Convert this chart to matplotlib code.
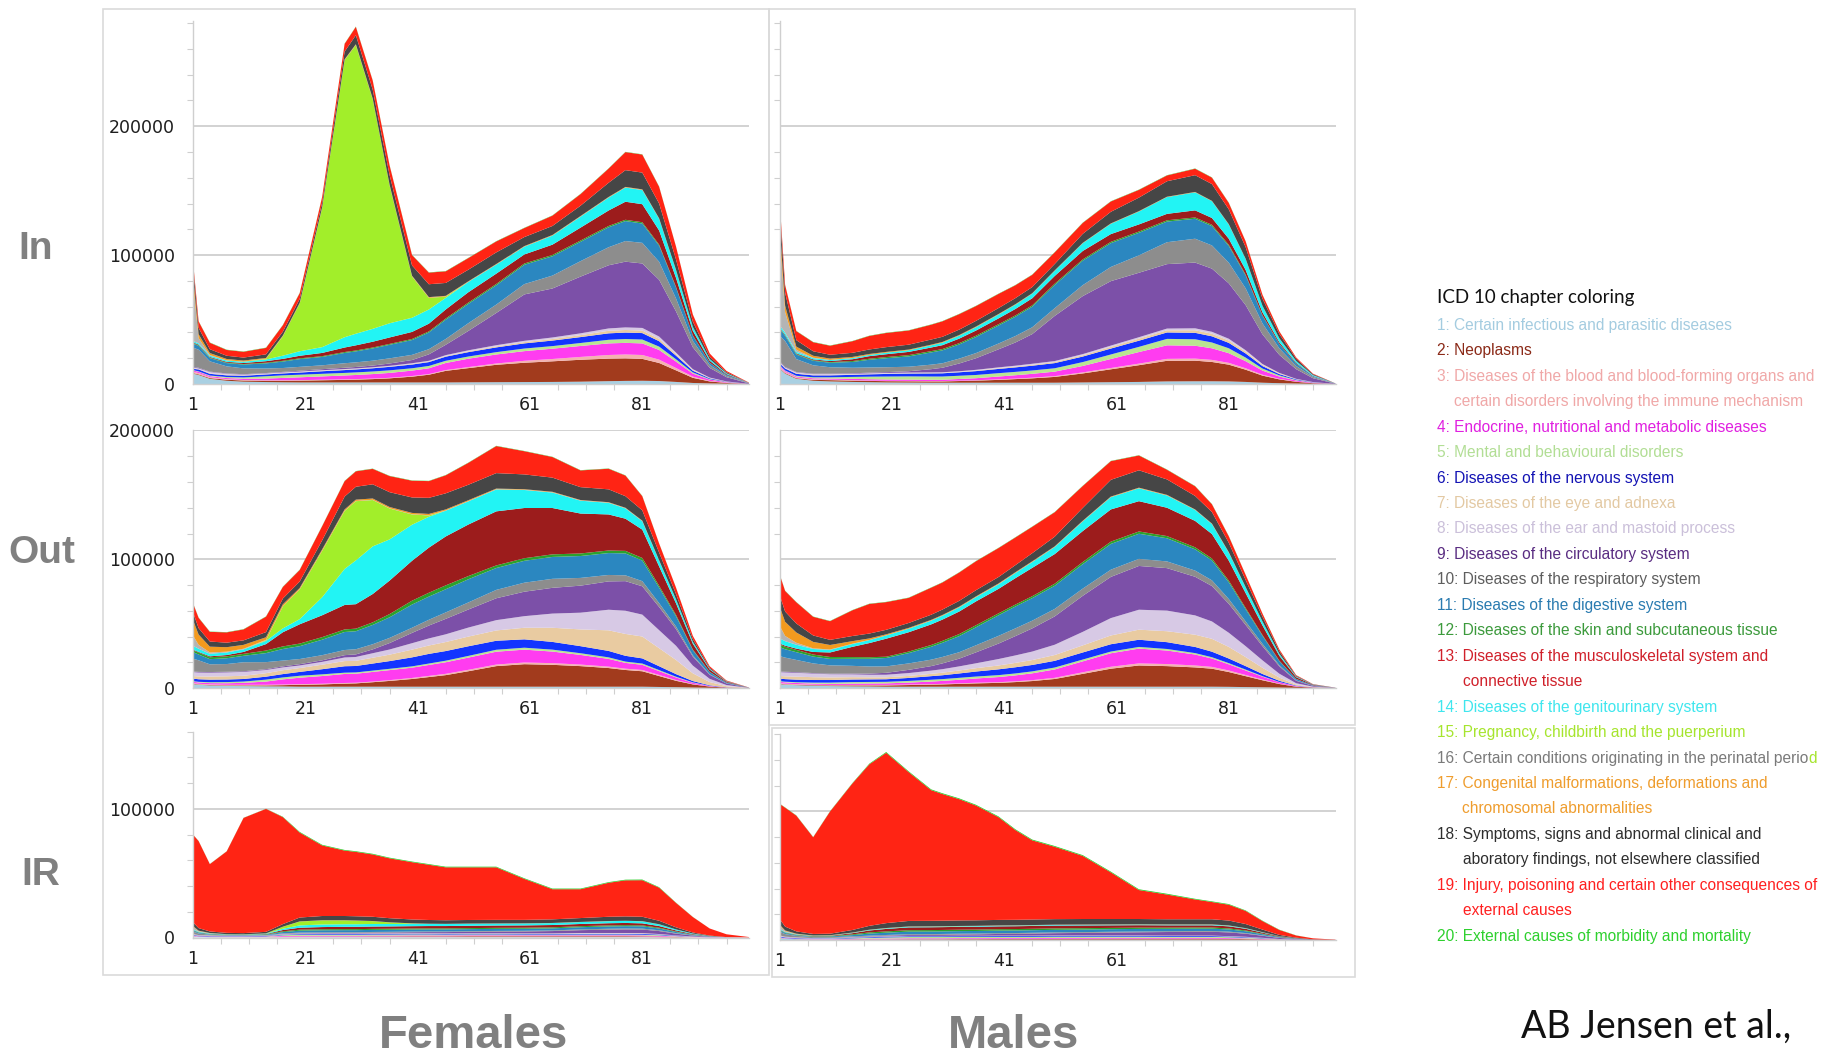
"""
ICD-10 chapter contacts by age — In / Out / IR, females vs males (stacked areas)
"""
import numpy as np

import matplotlib
matplotlib.use('Agg')
import matplotlib.pyplot as plt
from matplotlib.patches import Rectangle
from matplotlib.ticker import FixedLocator, MultipleLocator

W, H = 1835, 1060

# ages where the curves are sampled
AGES = [1, 2, 4, 7, 10, 14, 17, 20, 24, 28, 30, 33, 36, 40, 43, 46, 50,
        55, 60, 65, 70, 75, 78, 81, 84, 87, 90, 93, 96, 100]

# fill colour of each ICD-10 chapter (1..20, stacked bottom -> top)
FILL_COLORS = ['#a9d0e2', '#a23b1d', '#f4b2b0', '#ff3cf0', '#b9e591',
               '#1234ff', '#e9cba1', '#d7c9e5', '#7c50a8', '#8d8d8d',
               '#2b87c0', '#2ca12c', '#9c1c1c', '#22f4f4', '#a2ee2a',
               '#b4b4b4', '#f39a1e', '#464646', '#ff2414', '#22cc22']

TEXT_COLORS = ['#a4cce0', '#8b2a18', '#f0a8a8', '#e020e0', '#b2de95',
               '#1414b4', '#e3c9a3', '#cbc0da', '#5a2d82', '#5e5e5e',
               '#2a7bb0', '#3c9a3c', '#d0202a', '#3fe6ee', '#a6e52e',
               '#7a7a7a', '#ef9d2e', '#2e2e2e', '#ff2020', '#2ed02e']

CHAPTER_NUMS = ['1:', '2:', '3:', '4:', '5:', '6:', '7:', '8:', '9:', '10:',
                '11:', '12:', '13:', '14:', '15:', '16:', '17:', '18:', '19:', '20:']

CHAPTER_LINES = [
    ['Certain infectious and parasitic diseases'],
    ['Neoplasms'],
    ['Diseases of the blood and blood-forming organs and',
     'certain disorders involving the immune mechanism'],
    ['Endocrine, nutritional and metabolic diseases'],
    ['Mental and behavioural disorders'],
    ['Diseases of the nervous system'],
    ['Diseases of the eye and adnexa'],
    ['Diseases of the ear and mastoid process'],
    ['Diseases of the circulatory system'],
    ['Diseases of the respiratory system'],
    ['Diseases of the digestive system'],
    ['Diseases of the skin and subcutaneous tissue'],
    ['Diseases of the musculoskeletal system and', 'connective tissue'],
    ['Diseases of the genitourinary system'],
    ['Pregnancy, childbirth and the puerperium'],
    ['Certain conditions originating in the perinatal perio'],
    ['Congenital malformations, deformations and', 'chromosomal abnormalities'],
    ['Symptoms, signs and abnormal clinical and',
     'aboratory findings, not elsewhere classified'],
    ['Injury, poisoning and certain other consequences of', 'external causes'],
    ['External causes of morbidity and mortality'],
]

X_TICKS = [1, 21, 41, 61, 81]

# one row per age in AGES, one column per chapter 1..20, unit: 1000
F_IN = [
    [8, 0.5, 1, 1, 0.3, 1, 0.5, 0.5, 0.5, 15, 3, 0.5, 0.5, 1, 0, 45, 6, 8, 3, 0.2],
    [7, 0.5, 1, 1, 0.3, 1.5, 0.3, 0.5, 0.5, 14, 3, 0.5, 0.5, 1, 0, 4, 3, 5, 5, 0.2],
    [4, 0.6, 0.7, 0.8, 0.5, 1.3, 0.4, 1, 0.3, 8, 2.5, 0.4, 0.5, 1, 0, 0.5, 1.5, 3, 5, 0.2],
    [2.5, 0.8, 0.5, 0.8, 0.8, 1.3, 0.4, 0.8, 0.3, 5.5, 2.5, 0.4, 0.6, 1, 0, 0.2, 1, 2.5, 4.5, 0.2],
    [1.8, 0.9, 0.4, 1, 1, 1.3, 0.3, 0.6, 0.3, 4.5, 3, 0.4, 0.8, 1, 0, 0.1, 0.8, 2.3, 4.5, 0.2],
    [1.5, 1, 0.4, 1.3, 1.8, 1.4, 0.3, 0.5, 0.3, 3.5, 4, 0.5, 1.2, 1.3, 0.5, 0.1, 0.6, 2.8, 5, 0.2],
    [1.3, 1.2, 0.4, 1.8, 2, 1.5, 0.3, 0.5, 0.4, 3, 5, 0.6, 1.5, 2.5, 15, 0.1, 0.5, 3, 5, 0.2],
    [1.2, 1.4, 0.4, 2.2, 2, 1.7, 0.3, 0.5, 0.6, 3, 6, 0.6, 2, 3.5, 37, 0.1, 0.5, 3, 4.5, 0.2],
    [1.2, 1.7, 0.4, 2.6, 2, 2, 0.3, 0.5, 0.8, 3, 6.5, 0.6, 2.5, 4.5, 108, 0.1, 0.5, 3.5, 4.5, 0.2],
    [1.2, 2, 0.4, 3, 2, 2.2, 0.3, 0.5, 1, 3.5, 8, 0.7, 3.5, 8, 215, 0.1, 0.5, 6, 6, 0.2],
    [1.2, 2.2, 0.4, 3.2, 2, 2.3, 0.3, 0.5, 1.1, 3.6, 8.5, 0.7, 4, 9, 224, 0.1, 0.5, 7, 6.5, 0.2],
    [1.2, 2.6, 0.4, 3.5, 2, 2.5, 0.3, 0.5, 1.3, 3.8, 9.5, 0.7, 4.5, 10, 178, 0.1, 0.5, 7, 7, 0.2],
    [1.2, 3.2, 0.4, 3.8, 2, 2.7, 0.3, 0.5, 1.8, 4, 10.5, 0.7, 5, 11, 107, 0.1, 0.5, 7.5, 7.5, 0.2],
    [1.2, 4.5, 0.5, 4.2, 1.8, 2.9, 0.4, 0.6, 2.5, 4, 11.5, 0.8, 5.5, 11, 32, 0.1, 0.5, 8, 8, 0.2],
    [1.2, 6, 0.5, 4.5, 1.8, 3, 0.4, 0.6, 5, 4, 13, 0.8, 6, 11, 9, 0.1, 0.5, 10, 9, 0.2],
    [1.2, 9, 0.6, 5.5, 1.7, 3.2, 0.5, 0.7, 8, 4.5, 15, 0.9, 7, 9, 1, 0.1, 0.5, 10, 9, 0.2],
    [1.3, 11, 0.8, 6.5, 1.7, 3.4, 0.6, 0.8, 15, 6, 15, 1, 8, 8, 0, 0.1, 0.4, 9, 9, 0.2],
    [1.4, 13.5, 1, 7, 1.8, 3.7, 0.8, 0.9, 25, 6.5, 15, 1, 8, 7, 0, 0.1, 0.4, 9, 8.5, 0.2],
    [1.5, 15, 1.5, 7.5, 2, 4, 1, 1, 36, 8, 15, 1, 7, 6, 0, 0.1, 0.4, 7, 7, 0.2],
    [1.6, 16, 1.8, 8, 2, 4.3, 1.2, 1.2, 38, 10, 15, 1, 8, 7, 0, 0.1, 0.4, 7, 8, 0.2],
    [1.8, 17, 2.2, 8.5, 2.3, 4.6, 1.5, 1.4, 44, 12, 15, 1, 10, 8.5, 0, 0.1, 0.4, 8, 9, 0.2],
    [2.2, 17.5, 2.8, 9, 2.8, 5, 2, 1.8, 49, 14, 15.5, 1, 12, 10, 0, 0.1, 0.4, 11, 11, 0.2],
    [2.4, 17.5, 3, 9, 3, 5, 2, 2, 51, 16, 15.5, 1, 14, 11, 0, 0.1, 0.4, 13, 14, 0.2],
    [2.5, 17, 3, 9, 3, 5, 2, 2, 50, 16, 15, 1, 14, 11, 0, 0.1, 0.4, 13, 14, 0.2],
    [2.3, 14, 2.6, 7.5, 2.6, 4.2, 1.8, 1.8, 44, 14, 12.5, 0.8, 11, 9, 0, 0.1, 0.3, 11.5, 13, 0.2],
    [1.6, 9, 1.8, 5, 1.8, 2.8, 1.2, 1.2, 32, 10, 8.5, 0.5, 7, 6, 0, 0.1, 0.2, 8, 10, 0.1],
    [0.8, 4, 0.9, 2.4, 0.9, 1.3, 0.6, 0.6, 17, 5, 4, 0.3, 3.5, 3, 0, 0, 0.1, 4, 5.5, 0.1],
    [0.4, 1.6, 0.4, 1, 0.4, 0.6, 0.3, 0.3, 7.5, 2.2, 1.8, 0.1, 1.5, 1.3, 0, 0, 0, 1.8, 2.5, 0],
    [0.2, 0.6, 0.2, 0.4, 0.2, 0.2, 0.1, 0.1, 3.3, 1, 0.8, 0, 0.6, 0.6, 0, 0, 0, 0.8, 1, 0],
    [0, 0.05, 0, 0.02, 0, 0.02, 0, 0, 0.4, 0.1, 0.1, 0, 0.05, 0.05, 0, 0, 0, 0.1, 0.2, 0],
]

F_OUT = [
    [3, 0.3, 0.5, 1, 0.5, 2, 2, 3, 0.5, 10, 5, 1.5, 0.5, 3, 0, 8, 12, 6, 7, 0.2],
    [2.5, 0.3, 0.5, 1, 0.5, 2, 2.2, 3, 0.5, 9, 4.5, 1.5, 0.5, 2.5, 0, 3, 8, 5, 8, 0.2],
    [2, 0.3, 0.5, 1, 0.7, 2, 2.4, 3, 0.5, 6, 4, 1.5, 0.7, 2, 0, 1, 4.5, 4, 7.5, 0.2],
    [1.6, 0.4, 0.5, 1.2, 0.9, 2, 2.5, 3, 0.5, 6, 4.5, 1.5, 1, 2, 0, 0.6, 3.5, 3.5, 8, 0.2],
    [1.5, 0.5, 0.5, 1.5, 1, 2, 2.5, 3, 0.5, 7, 5, 1.5, 1.5, 2, 0, 0.5, 3, 3.5, 8.5, 0.2],
    [1.3, 0.7, 0.5, 2.5, 1.5, 2.3, 2.7, 2.5, 0.6, 5.5, 7, 2, 5, 2.5, 0.5, 0.3, 2, 4, 12, 0.2],
    [1.2, 1, 0.5, 4, 1.5, 2.6, 3, 2.2, 0.8, 4.5, 9, 2, 11, 3, 17, 0.2, 1.5, 4.5, 9, 0.2],
    [1, 1.5, 0.5, 5, 1.5, 3, 3, 2, 1, 4, 10, 2, 15, 4, 23, 0.2, 1, 5, 9, 0.2],
    [1, 1.8, 0.5, 6, 1.3, 4, 3.5, 2.2, 1.2, 4, 12, 2, 17, 14, 36, 0.2, 1, 7, 11, 0.2],
    [1, 2.4, 0.5, 7, 1, 5, 4, 2.8, 1.8, 4, 14, 2, 19, 28, 45, 0.2, 1, 10, 12, 0.2],
    [1, 2.6, 0.5, 7, 1, 5, 4, 3, 2, 4, 14, 2, 19, 34, 46, 0.2, 1, 10, 12, 0.2],
    [1, 3.5, 0.5, 7.5, 1, 5.5, 4.5, 3.5, 3, 4, 15, 2, 22, 37, 36, 0.2, 1, 11, 12, 0.2],
    [1, 4.5, 0.6, 7.8, 1, 6, 5, 4, 5, 4, 16, 2.5, 26, 32, 24, 0.2, 1, 11.5, 12.5, 0.2],
    [1, 6, 0.8, 8, 1, 7, 6, 5, 8, 4, 18, 3, 31, 28, 8, 0.2, 1, 12, 13, 0.2],
    [1, 7.5, 0.9, 8.5, 1.1, 7.5, 6.5, 5.5, 10, 4.5, 18, 3, 35, 24, 1, 0.2, 1, 12.5, 13, 0.2],
    [1, 9, 1, 9, 1.2, 7.5, 7, 6, 12, 5, 18, 3, 38, 20, 0, 0.2, 0.8, 12.5, 14, 0.2],
    [1, 12, 1.1, 9.5, 1.3, 7.5, 7.5, 7, 14, 5.5, 18, 2.5, 40, 18, 0, 0.2, 0.7, 12, 17, 0.2],
    [1, 16, 1.2, 10, 1.5, 7, 8, 8, 17, 6.5, 17, 2, 42, 17, 0, 0.2, 0.5, 12, 21, 0.2],
    [1, 17.5, 1.3, 10, 1.5, 6.5, 9, 9, 19, 7, 17, 2, 39, 14, 0, 0.2, 0.4, 11.5, 18, 0.2],
    [1, 17, 1.3, 9, 1.5, 6, 11, 11, 20, 7, 17, 2, 36, 12, 0, 0.2, 0.4, 11, 16, 0.2],
    [1, 16, 1.2, 7.5, 1.3, 5.5, 13, 13, 21, 6, 17, 2, 31, 10, 0, 0.2, 0.3, 10, 13, 0.2],
    [1, 14.5, 1.1, 6, 1.2, 5, 16, 16, 22, 5, 17, 2, 28, 9, 0, 0.2, 0.3, 10, 16, 0.2],
    [1, 13, 1, 4.5, 1, 4.5, 17, 18, 23, 4.5, 17, 2, 25, 8, 0, 0.2, 0.3, 9, 16, 0.2],
    [1, 12, 1, 4, 1, 4, 17, 17, 22, 4, 16, 2, 22, 6.5, 0, 0.2, 0.3, 8, 11, 0.2],
    [0.8, 8.5, 0.8, 3, 0.8, 3, 14, 14, 18, 3, 12, 1.5, 15, 4.5, 0, 0.1, 0.2, 6, 7, 0.1],
    [0.6, 5, 0.6, 2, 0.6, 2, 11, 11, 13, 2, 8, 1, 9, 3, 0, 0.1, 0.1, 4, 5, 0.1],
    [0.3, 2.5, 0.3, 1, 0.3, 1, 6, 6, 7, 1, 4, 0.5, 4.5, 1.5, 0, 0, 0.1, 2, 2.5, 0],
    [0.1, 1, 0.1, 0.4, 0.1, 0.4, 2.5, 2.5, 3.2, 0.4, 1.7, 0.2, 1.8, 0.6, 0, 0, 0, 0.8, 1.1, 0],
    [0, 0.3, 0, 0.1, 0, 0.1, 0.9, 0.9, 1.2, 0.1, 0.6, 0.1, 0.6, 0.2, 0, 0, 0, 0.3, 0.4, 0],
    [0, 0.02, 0, 0, 0, 0, 0.05, 0.05, 0.1, 0, 0.05, 0, 0.05, 0, 0, 0, 0, 0.03, 0.05, 0],
]

F_IR = [
    [0.8, 0.1, 0.2, 0.3, 0.1, 0.5, 0.3, 0.3, 0.1, 2, 0.8, 0.3, 0.1, 0.5, 0, 2, 0.5, 3, 68, 0.1],
    [0.5, 0.1, 0.1, 0.2, 0.1, 0.4, 0.2, 0.2, 0.1, 1.2, 0.6, 0.3, 0.1, 0.4, 0, 0.5, 0.3, 2, 67.6, 0.1],
    [0.3, 0.1, 0.1, 0.2, 0.1, 0.3, 0.2, 0.2, 0.1, 0.6, 0.4, 0.2, 0.1, 0.3, 0, 0.1, 0.2, 1.2, 52.3, 0.1],
    [0.2, 0.1, 0.1, 0.2, 0.1, 0.3, 0.1, 0.1, 0.1, 0.4, 0.3, 0.2, 0.1, 0.2, 0, 0, 0.1, 1, 63.3, 0.1],
    [0.2, 0.1, 0.1, 0.2, 0.1, 0.3, 0.1, 0.1, 0.1, 0.3, 0.3, 0.2, 0.1, 0.2, 0, 0, 0.1, 0.9, 89.5, 0.1],
    [0.2, 0.1, 0.1, 0.3, 0.2, 0.3, 0.1, 0.1, 0.1, 0.3, 0.4, 0.3, 0.2, 0.3, 0.1, 0, 0.1, 1.2, 95.5, 0.1],
    [0.3, 0.2, 0.2, 0.5, 0.6, 0.4, 0.2, 0.2, 0.2, 0.4, 1, 0.6, 1, 1, 1.5, 0, 0.1, 2, 83.1, 0.3],
    [0.3, 0.2, 0.2, 0.6, 0.8, 0.5, 0.2, 0.2, 0.3, 0.5, 1.5, 0.8, 1.5, 1.8, 3, 0, 0.1, 3, 66, 0.5],
    [0.3, 0.3, 0.2, 0.6, 0.8, 0.5, 0.2, 0.2, 0.4, 0.5, 1.6, 0.8, 1.7, 2, 3.2, 0, 0.1, 3.3, 54.8, 0.5],
    [0.3, 0.3, 0.2, 0.6, 0.8, 0.5, 0.2, 0.2, 0.5, 0.5, 1.6, 0.8, 1.8, 2, 3, 0, 0.1, 3.3, 50.8, 0.5],
    [0.3, 0.3, 0.2, 0.6, 0.8, 0.5, 0.2, 0.2, 0.5, 0.5, 1.6, 0.8, 1.8, 2, 2.8, 0, 0.1, 3.3, 50, 0.5],
    [0.3, 0.4, 0.2, 0.6, 0.8, 0.5, 0.2, 0.2, 0.6, 0.5, 1.6, 0.8, 1.8, 2, 2.2, 0, 0.1, 3.3, 48.4, 0.5],
    [0.3, 0.4, 0.2, 0.6, 0.8, 0.5, 0.2, 0.2, 0.7, 0.5, 1.6, 0.8, 1.8, 1.9, 1.2, 0, 0.1, 3.2, 46.5, 0.5],
    [0.3, 0.5, 0.2, 0.6, 0.8, 0.5, 0.2, 0.2, 0.8, 0.5, 1.6, 0.8, 1.8, 1.8, 0.3, 0, 0.1, 3, 44.5, 0.5],
    [0.3, 0.5, 0.2, 0.6, 0.8, 0.5, 0.2, 0.2, 0.9, 0.5, 1.6, 0.8, 1.8, 1.7, 0, 0, 0.1, 2.9, 42.9, 0.5],
    [0.3, 0.5, 0.2, 0.6, 0.7, 0.5, 0.2, 0.2, 1, 0.5, 1.6, 0.8, 1.8, 1.6, 0, 0, 0.1, 2.8, 41.1, 0.5],
    [0.3, 0.6, 0.2, 0.6, 0.7, 0.5, 0.2, 0.2, 1.1, 0.5, 1.6, 0.8, 1.8, 1.6, 0, 0, 0.1, 2.8, 40.9, 0.5],
    [0.3, 0.6, 0.2, 0.6, 0.7, 0.5, 0.2, 0.2, 1.3, 0.5, 1.6, 0.8, 1.8, 1.5, 0, 0, 0.1, 2.8, 40.8, 0.5],
    [0.3, 0.6, 0.2, 0.6, 0.6, 0.5, 0.2, 0.2, 1.5, 0.5, 1.6, 0.8, 1.8, 1.5, 0, 0, 0.1, 2.7, 31.8, 0.5],
    [0.3, 0.6, 0.2, 0.6, 0.6, 0.5, 0.2, 0.2, 1.8, 0.5, 1.6, 0.8, 1.8, 1.5, 0, 0, 0.1, 2.8, 23.4, 0.5],
    [0.3, 0.6, 0.2, 0.6, 0.6, 0.6, 0.3, 0.3, 2.2, 0.6, 1.7, 0.8, 1.7, 1.5, 0, 0, 0.1, 3, 22.4, 0.5],
    [0.3, 0.6, 0.2, 0.6, 0.6, 0.6, 0.3, 0.3, 2.6, 0.7, 1.8, 0.8, 1.7, 1.6, 0, 0, 0.1, 3.3, 26.4, 0.5],
    [0.3, 0.6, 0.2, 0.6, 0.6, 0.6, 0.3, 0.3, 2.8, 0.7, 1.8, 0.8, 1.7, 1.6, 0, 0, 0.1, 3.4, 28, 0.5],
    [0.3, 0.5, 0.2, 0.6, 0.6, 0.6, 0.3, 0.3, 2.8, 0.7, 1.8, 0.7, 1.6, 1.6, 0, 0, 0.1, 3.4, 28.4, 0.5],
    [0.2, 0.4, 0.2, 0.5, 0.5, 0.5, 0.2, 0.2, 2.3, 0.6, 1.4, 0.6, 1.3, 1.3, 0, 0, 0.1, 2.7, 25.7, 0.4],
    [0.1, 0.3, 0.1, 0.3, 0.3, 0.3, 0.1, 0.1, 1.4, 0.4, 0.9, 0.4, 0.8, 0.8, 0, 0, 0, 1.6, 19, 0.2],
    [0.1, 0.1, 0.1, 0.1, 0.1, 0.1, 0.1, 0.1, 0.7, 0.2, 0.4, 0.2, 0.4, 0.4, 0, 0, 0, 0.8, 12, 0.1],
    [0, 0.1, 0, 0.1, 0, 0.1, 0, 0, 0.3, 0.1, 0.2, 0.1, 0.1, 0.1, 0, 0, 0, 0.3, 5.5, 0],
    [0, 0, 0, 0, 0, 0, 0, 0, 0.1, 0, 0.1, 0, 0, 0, 0, 0, 0, 0.1, 2.2, 0],
    [0, 0, 0, 0, 0, 0, 0, 0, 0.02, 0, 0.02, 0, 0, 0, 0, 0, 0, 0.02, 0.3, 0],
]

M_IN = [
    [12, 0.5, 1, 1, 0.3, 1.5, 0.5, 0.5, 0.5, 20, 5, 0.5, 0.5, 2, 0, 70, 9, 14, 5, 0.2],
    [8, 0.5, 0.8, 0.8, 0.4, 1.5, 0.4, 0.5, 0.4, 20, 4, 0.5, 0.5, 1.5, 0, 16, 5, 10, 6, 0.2],
    [4, 0.5, 0.6, 0.7, 0.6, 1.5, 0.4, 0.7, 0.3, 10, 3.5, 0.5, 0.5, 1.2, 0, 1.5, 2.5, 5, 7, 0.2],
    [2.5, 0.7, 0.5, 0.7, 0.8, 1.5, 0.4, 0.6, 0.3, 6.5, 3.5, 0.5, 0.6, 1, 0, 0.3, 1.5, 3.5, 7, 0.2],
    [2, 1, 0.4, 0.8, 1, 1.5, 0.4, 0.6, 0.3, 5, 3.5, 0.5, 0.8, 0.8, 0, 0.1, 1, 3, 7, 0.2],
    [1.6, 1, 0.4, 1, 1.5, 1.6, 0.3, 0.5, 0.4, 4.3, 4.5, 0.7, 1.4, 0.9, 0, 0.1, 0.8, 3.2, 9, 0.2],
    [1.4, 1, 0.3, 1, 2, 1.8, 0.3, 0.5, 0.5, 4, 6, 0.8, 2, 1, 0, 0, 0.7, 3.5, 10.5, 0.2],
    [1.2, 1, 0.3, 1, 2.3, 2, 0.3, 0.5, 0.6, 3.8, 7, 0.9, 2.2, 1.2, 0, 0, 0.6, 3.7, 11, 0.2],
    [1.1, 1, 0.3, 1, 2.5, 2.2, 0.3, 0.5, 1, 3.5, 8, 1, 2.5, 1.3, 0, 0, 0.5, 3.8, 11, 0.2],
    [1, 1, 0.3, 1, 2.5, 2.4, 0.3, 0.5, 2.5, 3.5, 9.5, 1, 2.8, 1.7, 0, 0, 0.5, 4, 11.5, 0.2],
    [1, 1, 0.3, 1, 2.5, 2.5, 0.3, 0.5, 3.5, 3.5, 10, 1, 3, 2, 0, 0, 0.5, 4, 12, 0.2],
    [1, 1.3, 0.3, 1.3, 2.5, 2.7, 0.3, 0.5, 6, 3.8, 11, 1, 3.5, 2.3, 0, 0, 0.5, 4.2, 12, 0.2],
    [1, 1.6, 0.3, 1.6, 2.5, 3, 0.4, 0.6, 9, 4, 12.5, 1, 4, 2.6, 0, 0, 0.5, 4.4, 11.5, 0.2],
    [1, 2.2, 0.4, 2.2, 2.6, 3.3, 0.5, 0.7, 14, 4.5, 14, 1, 4.5, 3, 0, 0, 0.4, 4.6, 11, 0.2],
    [1, 2.8, 0.4, 2.6, 2.6, 3.5, 0.6, 0.7, 18, 5, 15, 1, 5, 3.3, 0, 0, 0.4, 4.7, 10, 0.2],
    [1, 3.4, 0.5, 3, 2.6, 3.7, 0.7, 0.8, 23, 5.3, 16, 1, 5.5, 3.6, 0, 0, 0.3, 4.8, 9.5, 0.2],
    [1, 4.5, 0.6, 3.5, 2.6, 4, 0.8, 0.8, 35, 6, 18, 1, 6, 4, 0, 0, 0.3, 5, 9, 0.2],
    [1.2, 7, 0.8, 5, 3, 4.3, 1, 0.9, 45, 8.5, 19, 1, 6.5, 6, 0, 0, 0.3, 7, 8.5, 0.2],
    [1.4, 10, 1, 7, 3.5, 4.6, 1.3, 1, 50, 11, 18.5, 1, 6, 8, 0, 0, 0.3, 9, 8, 0.2],
    [1.6, 13, 1.2, 9, 4, 4.8, 1.6, 1.1, 50, 13.5, 17.5, 1, 5.5, 10, 0, 0, 0.3, 10.5, 6, 0.2],
    [2, 16, 1.5, 10.5, 5, 5, 1.7, 1.3, 50, 17, 16, 1, 5, 13, 0, 0, 0.3, 12, 4.5, 0.2],
    [2.1, 16, 1.6, 10, 5, 5, 2, 1.5, 51, 18.5, 15.5, 1, 5.5, 14, 0, 0, 0.3, 13, 5, 0.2],
    [2.1, 15, 1.6, 9, 4.5, 4.8, 2, 1.5, 49, 18, 15, 1, 5.3, 13, 0, 0, 0.3, 13, 5, 0.2],
    [2, 13, 1.4, 7.5, 3.8, 4.2, 1.8, 1.4, 43, 16, 13, 0.9, 4.7, 11, 0, 0, 0.3, 11.5, 5, 0.2],
    [1.6, 9.5, 1.1, 5.5, 2.8, 3.2, 1.4, 1.1, 35, 13, 10, 0.7, 3.6, 8.5, 0, 0, 0.2, 9, 4.5, 0.1],
    [1, 5.5, 0.7, 3.2, 1.6, 1.9, 0.9, 0.7, 23, 8.5, 6, 0.4, 2.2, 5, 0, 0, 0.1, 5.5, 3, 0.1],
    [0.6, 3, 0.4, 1.8, 0.9, 1, 0.5, 0.4, 14, 5, 3.4, 0.2, 1.2, 3, 0, 0, 0.1, 3.3, 2, 0.1],
    [0.3, 1.4, 0.2, 0.8, 0.4, 0.5, 0.2, 0.2, 7.5, 2.5, 1.7, 0.1, 0.6, 1.5, 0, 0, 0, 1.7, 1, 0],
    [0.1, 0.5, 0.1, 0.3, 0.1, 0.2, 0.1, 0.1, 3, 1, 0.6, 0, 0.2, 0.6, 0, 0, 0, 0.7, 0.4, 0],
    [0, 0.03, 0, 0.02, 0, 0, 0, 0, 0.2, 0.06, 0.04, 0, 0.01, 0.04, 0, 0, 0, 0.05, 0.03, 0],
]

M_OUT = [
    [3, 0.3, 0.5, 1, 0.5, 2, 2, 3, 0.5, 12, 7, 2, 0.8, 4, 0, 10, 15, 9, 16, 0.2],
    [2.6, 0.3, 0.5, 1, 0.5, 2, 2.2, 3, 0.5, 11, 6.5, 2, 0.8, 3.5, 0, 4, 11, 8, 16, 0.2],
    [2.2, 0.3, 0.5, 0.9, 0.6, 2, 2.3, 3, 0.5, 9.5, 6, 1.8, 1, 3, 0, 1.5, 8, 7, 16.5, 0.2],
    [1.8, 0.4, 0.4, 0.8, 0.8, 2, 2.2, 2.8, 0.4, 7.5, 5.3, 1.6, 2, 2.3, 0, 0.5, 5, 5, 14.5, 0.2],
    [1.5, 0.5, 0.4, 0.8, 1, 2, 2, 2.5, 0.4, 6.5, 5, 1.5, 3.5, 2, 0, 0.3, 3.5, 4, 14.5, 0.2],
    [1.3, 0.7, 0.4, 1, 1.2, 2, 1.8, 2.2, 0.6, 6, 5.5, 1.3, 8, 2.2, 0, 0.2, 2, 4, 20, 0.2],
    [1.2, 0.8, 0.4, 1.1, 1.2, 2, 1.6, 2, 0.9, 5.5, 6, 1.2, 11, 2.3, 0, 0.1, 1.2, 3.8, 23, 0.2],
    [1, 1, 0.4, 1.2, 1.2, 2, 1.5, 2, 1.5, 5, 6.5, 1, 14, 2.5, 0, 0.1, 0.8, 3.5, 21.5, 0.2],
    [1, 1.3, 0.4, 1.5, 1.3, 2.3, 1.6, 2.2, 2.5, 5, 8, 1.2, 15, 2.7, 0, 0.1, 0.6, 3.8, 19.5, 0.2],
    [1, 1.6, 0.4, 2, 1.4, 2.8, 1.8, 2.5, 3.5, 5, 10, 1.4, 16, 2.9, 0, 0.1, 0.5, 4, 21, 0.2],
    [1, 1.8, 0.4, 2.3, 1.4, 3, 2, 2.7, 4.5, 5, 11, 1.5, 16.5, 3, 0, 0.1, 0.5, 4.2, 21, 0.2],
    [1, 2.2, 0.4, 2.8, 1.5, 3.4, 2.3, 3.2, 6, 5, 12.5, 1.6, 17.5, 3.2, 0, 0.1, 0.5, 4.5, 22, 0.2],
    [1, 2.6, 0.5, 3.3, 1.5, 3.9, 2.6, 3.8, 8.5, 5.5, 14, 1.6, 18.5, 3.3, 0, 0.1, 0.5, 4.8, 22.5, 0.2],
    [1, 3, 0.5, 4, 1.5, 4.5, 3, 5, 12, 6, 16, 1.5, 19, 3.5, 0, 0.2, 0.5, 5, 22.5, 0.2],
    [1, 3.6, 0.6, 4.6, 1.5, 4.8, 3.4, 5.8, 15, 6, 17, 1.5, 20.5, 4, 0, 0.1, 0.5, 5.5, 21.5, 0.2],
    [1, 4.4, 0.7, 5.3, 1.5, 5, 3.8, 6.6, 18, 6, 17.5, 1.5, 22, 4.5, 0, 0.1, 0.5, 6.3, 20.5, 0.2],
    [1, 6, 0.9, 6.5, 1.5, 5.2, 4.5, 8, 22, 5.8, 18, 1.6, 23, 5.5, 0, 0.1, 0.4, 7.5, 19, 0.2],
    [1, 10, 1.2, 8.5, 1.4, 5.5, 5.5, 10.5, 28, 5.6, 19, 1.7, 24, 7.5, 0, 0.1, 0.4, 10, 17, 0.2],
    [1, 14, 1.5, 10.5, 1.3, 5.7, 6.8, 13.5, 32, 5.6, 20, 1.8, 25, 9.5, 0, 0.1, 0.4, 13, 14.5, 0.2],
    [1, 16.5, 1.6, 11.5, 1.3, 5.6, 7.8, 15.5, 34, 5.5, 19.5, 1.8, 23.5, 10, 0, 0.1, 0.4, 13.5, 11.5, 0.2],
    [1, 16, 1.6, 10.5, 1.2, 5.3, 8.5, 16, 33, 5.2, 18, 1.7, 22, 9.5, 0, 0.1, 0.4, 12, 7.5, 0.2],
    [1, 15, 1.5, 8.5, 1.1, 4.8, 9.5, 15, 30, 4.8, 16.5, 1.6, 20.5, 8.5, 0, 0.1, 0.3, 10.5, 7.5, 0.2],
    [1, 14, 1.4, 6.5, 1, 4.3, 10, 13.5, 27.5, 4.4, 15.5, 1.5, 19, 7.7, 0, 0.1, 0.3, 9, 6, 0.2],
    [0.9, 11.5, 1.2, 4.8, 0.9, 3.6, 9, 11, 22.5, 3.7, 13, 1.3, 15.5, 6.2, 0, 0.1, 0.3, 7.3, 5, 0.2],
    [0.7, 8.5, 0.9, 3.5, 0.7, 2.7, 7, 8.5, 16.5, 2.7, 9.5, 1, 11.5, 4.5, 0, 0, 0.2, 5.5, 4, 0.1],
    [0.5, 5.5, 0.6, 2.2, 0.4, 1.7, 4.8, 5.8, 11, 1.8, 6.2, 0.6, 7.5, 3, 0, 0, 0.1, 3.6, 2.5, 0.1],
    [0.3, 2.8, 0.3, 1.1, 0.2, 0.9, 2.5, 3, 5.7, 0.9, 3.2, 0.3, 3.8, 1.5, 0, 0, 0.1, 1.9, 1.4, 0.1],
    [0.1, 0.9, 0.1, 0.4, 0.1, 0.3, 0.8, 1, 1.9, 0.3, 1.1, 0.1, 1.3, 0.5, 0, 0, 0, 0.6, 0.5, 0],
    [0, 0.3, 0, 0.1, 0, 0.1, 0.25, 0.3, 0.6, 0.1, 0.35, 0, 0.4, 0.15, 0, 0, 0, 0.2, 0.15, 0],
    [0, 0.03, 0, 0.01, 0, 0.01, 0.02, 0.03, 0.06, 0.01, 0.03, 0, 0.04, 0.01, 0, 0, 0, 0.02, 0.02, 0],
]

M_IR = [
    [1.5, 0.1, 0.2, 0.3, 0.1, 0.6, 0.3, 0.4, 0.1, 3, 1, 0.4, 0.2, 0.6, 0, 2.5, 0.8, 4.5, 89.2, 0.2],
    [1, 0.1, 0.1, 0.2, 0.1, 0.5, 0.2, 0.3, 0.1, 2, 0.8, 0.3, 0.2, 0.4, 0, 0.6, 0.5, 3, 92.4, 0.2],
    [0.6, 0.1, 0.1, 0.2, 0.1, 0.4, 0.2, 0.2, 0.1, 1.2, 0.5, 0.3, 0.2, 0.3, 0, 0.1, 0.3, 1.8, 89.9, 0.2],
    [0.3, 0.1, 0.1, 0.2, 0.1, 0.3, 0.1, 0.2, 0.1, 0.7, 0.4, 0.3, 0.2, 0.2, 0, 0, 0.2, 1.2, 75.1, 0.2],
    [0.3, 0.1, 0.1, 0.2, 0.2, 0.3, 0.1, 0.2, 0.1, 0.6, 0.5, 0.3, 0.3, 0.2, 0, 0, 0.2, 1.2, 94.9, 0.2],
    [0.3, 0.2, 0.1, 0.3, 0.4, 0.4, 0.1, 0.2, 0.2, 0.6, 1, 0.6, 0.9, 0.3, 0, 0, 0.2, 2, 113.9, 0.3],
    [0.3, 0.2, 0.1, 0.4, 0.7, 0.5, 0.1, 0.2, 0.3, 0.6, 1.6, 0.9, 1.5, 0.4, 0, 0, 0.2, 3, 125.5, 0.5],
    [0.3, 0.2, 0.1, 0.5, 0.9, 0.6, 0.1, 0.2, 0.4, 0.6, 1.8, 1, 1.9, 0.5, 0, 0, 0.2, 3.8, 132.3, 0.6],
    [0.3, 0.3, 0.1, 0.6, 1, 0.6, 0.1, 0.2, 0.7, 0.6, 2, 1.1, 2.2, 0.5, 0, 0, 0.2, 4.3, 115.6, 0.6],
    [0.3, 0.3, 0.1, 0.6, 1, 0.6, 0.1, 0.2, 0.8, 0.6, 2, 1.1, 2.2, 0.5, 0, 0, 0.2, 4.3, 101.5, 0.6],
    [0.3, 0.3, 0.1, 0.6, 1, 0.6, 0.1, 0.2, 0.9, 0.6, 2, 1.1, 2.2, 0.5, 0, 0, 0.2, 4.3, 98.4, 0.6],
    [0.3, 0.4, 0.1, 0.6, 1, 0.6, 0.1, 0.2, 1, 0.6, 2, 1.1, 2.2, 0.5, 0, 0, 0.2, 4.3, 94.2, 0.6],
    [0.3, 0.4, 0.1, 0.6, 1, 0.6, 0.1, 0.2, 1.1, 0.6, 2, 1.1, 2.2, 0.5, 0, 0, 0.2, 4.3, 89.1, 0.6],
    [0.3, 0.5, 0.1, 0.6, 1, 0.6, 0.1, 0.2, 1.3, 0.6, 2, 1.1, 2.2, 0.5, 0, 0, 0.2, 4.3, 79.8, 0.6],
    [0.3, 0.5, 0.1, 0.6, 1, 0.6, 0.1, 0.2, 1.4, 0.6, 2, 1.1, 2.2, 0.5, 0, 0, 0.2, 4.3, 69.7, 0.6],
    [0.3, 0.5, 0.1, 0.6, 1, 0.6, 0.1, 0.2, 1.6, 0.6, 2, 1.1, 2.2, 0.5, 0, 0, 0.2, 4.3, 61.5, 0.6],
    [0.3, 0.6, 0.1, 0.6, 1, 0.6, 0.1, 0.2, 1.8, 0.6, 2, 1.1, 2.2, 0.5, 0, 0, 0.2, 4.3, 56.2, 0.6],
    [0.3, 0.6, 0.1, 0.6, 1, 0.6, 0.1, 0.2, 2, 0.6, 2, 1.1, 2.1, 0.5, 0, 0, 0.2, 4.3, 49, 0.6],
    [0.3, 0.7, 0.1, 0.6, 0.9, 0.6, 0.1, 0.2, 2.3, 0.6, 2, 1, 2, 0.5, 0, 0, 0.2, 4.2, 36.2, 0.6],
    [0.3, 0.7, 0.1, 0.6, 0.9, 0.6, 0.1, 0.2, 2.5, 0.6, 2, 1, 1.9, 0.5, 0, 0, 0.2, 4.1, 22.5, 0.6],
    [0.3, 0.7, 0.1, 0.6, 0.8, 0.6, 0.1, 0.2, 2.8, 0.6, 1.9, 0.9, 1.8, 0.5, 0, 0, 0.2, 4, 19.2, 0.6],
    [0.3, 0.7, 0.1, 0.6, 0.8, 0.6, 0.1, 0.2, 3, 0.6, 1.8, 0.9, 1.7, 0.5, 0, 0, 0.2, 4, 15.4, 0.5],
    [0.3, 0.7, 0.1, 0.6, 0.8, 0.6, 0.1, 0.2, 3, 0.6, 1.8, 0.9, 1.7, 0.5, 0, 0, 0.2, 4, 13.4, 0.5],
    [0.3, 0.6, 0.1, 0.5, 0.7, 0.5, 0.1, 0.2, 2.9, 0.6, 1.7, 0.8, 1.6, 0.5, 0, 0, 0.2, 3.8, 12.3, 0.5],
    [0.2, 0.5, 0.1, 0.4, 0.6, 0.4, 0.1, 0.2, 2.4, 0.5, 1.4, 0.6, 1.3, 0.4, 0, 0, 0.1, 3.2, 10.2, 0.4],
    [0.1, 0.3, 0.1, 0.3, 0.4, 0.3, 0.1, 0.1, 1.6, 0.3, 0.9, 0.4, 0.8, 0.3, 0, 0, 0.1, 2, 6.6, 0.3],
    [0.1, 0.2, 0, 0.1, 0.2, 0.1, 0, 0.1, 0.8, 0.2, 0.5, 0.2, 0.4, 0.1, 0, 0, 0, 1, 3.8, 0.2],
    [0, 0.1, 0, 0.1, 0.1, 0.1, 0, 0, 0.3, 0.1, 0.2, 0.1, 0.2, 0.1, 0, 0, 0, 0.4, 1.7, 0.1],
    [0, 0, 0, 0, 0, 0, 0, 0, 0.1, 0, 0.1, 0, 0.1, 0, 0, 0, 0, 0.2, 0.8, 0],
    [0, 0, 0, 0, 0, 0, 0, 0, 0.02, 0, 0.02, 0, 0.02, 0, 0, 0, 0, 0.04, 0.2, 0],
]

GRID_COLOR = '#c6c6c6'
AXIS_COLOR = '#cfcfcf'
FRAME_COLOR = '#dadada'
LABEL_GRAY = '#808080'
SANS = ['Liberation Sans', 'DejaVu Sans']


def px_axes(fig, x0, x1, y_base, y_top):
    """axes placed by pixel edges (origin top-left)"""
    return fig.add_axes([x0 / W, 1 - y_base / H, (x1 - x0) / W, (y_base - y_top) / H])


def draw_panel(ax, rows, ymax, yticks, show_ylabels):
    vals = np.array(rows, dtype=float).T * 1000
    ax.stackplot(AGES, vals, colors=FILL_COLORS, linewidth=0, zorder=2)
    for y in yticks:
        if y > 0:
            ax.axhline(y, color=GRID_COLOR, lw=1.1, zorder=1)
    ax.set_xlim(1, 100)
    ax.set_ylim(0, ymax)
    ax.set_xticks(X_TICKS)
    ax.set_xticklabels([str(t) for t in X_TICKS])
    ax.xaxis.set_minor_locator(FixedLocator(list(range(6, 100, 5))))
    ax.set_yticks(yticks)
    ax.yaxis.set_minor_locator(MultipleLocator(20000))
    if show_ylabels:
        ax.set_yticklabels([str(t) for t in yticks])
    else:
        ax.set_yticklabels([])
    ax.tick_params(axis='both', which='major', length=0, labelsize=12.5,
                   labelcolor='#1e1e1e')
    ax.tick_params(axis='x', which='major', pad=9)
    ax.tick_params(axis='y', which='major', pad=13)
    ax.tick_params(axis='both', which='minor', length=4, width=0.8, color=AXIS_COLOR)
    for side in ('top', 'right'):
        ax.spines[side].set_visible(False)
    for side in ('left', 'bottom'):
        ax.spines[side].set_color(AXIS_COLOR)
        ax.spines[side].set_linewidth(1)
    ax.set_facecolor('none')


def add_frame(fig, x0, y0, x1, y1):
    fig.patches.append(Rectangle((x0 / W, 1 - y1 / H), (x1 - x0) / W, (y1 - y0) / H,
                                 transform=fig.transFigure, fill=False,
                                 ec=FRAME_COLOR, lw=1.2, zorder=0))


fig = plt.figure(figsize=(W / 100, H / 100), dpi=100)
fig.patch.set_facecolor('white')

# panel frames
add_frame(fig, 103, 9, 769, 975)
add_frame(fig, 769, 9, 1355, 725)
add_frame(fig, 772, 728, 1355, 977)

F_X0, F_X1 = 193, 749
M_X0, M_X1 = 779.5, 1335.5

panels = [
    (F_X0, F_X1, 384, 20.5, F_IN, 282000, [0, 100000, 200000], True),
    (F_X0, F_X1, 688, 430.5, F_OUT, 200000, [0, 100000, 200000], True),
    (F_X0, F_X1, 937.5, 731.5, F_IR, 160000, [0, 100000], True),
    (M_X0, M_X1, 384, 20.5, M_IN, 282000, [0, 100000, 200000], False),
    (M_X0, M_X1, 688, 430.5, M_OUT, 200000, [0, 100000, 200000], False),
    (M_X0, M_X1, 940, 734, M_IR, 160000, [0, 100000], False),
]
for x0, x1, yb, yt, rows, ymax, yticks, show in panels:
    ax = px_axes(fig, x0, x1, yb, yt)
    draw_panel(ax, rows, ymax, yticks, show)


def put(x, y, s, **kw):
    return fig.text(x / W, 1 - y / H, s, **kw)


# row / column headings
for label, (x, y) in zip(['In', 'Out', 'IR'], [(36, 249), (42, 553), (41, 875)]):
    put(x, y, label, ha='center', va='center', fontsize=28, weight='bold',
        color=LABEL_GRAY, family=SANS)
put(474, 1048, 'Females', ha='center', va='baseline', fontsize=34, weight='bold',
    color=LABEL_GRAY, family=SANS)
put(1014, 1048, 'Males', ha='center', va='baseline', fontsize=34, weight='bold',
    color=LABEL_GRAY, family=SANS)
put(1521, 1027, 'AB Jensen et al.,', ha='left', va='center', fontsize=27,
    weight='normal', color='#111111', family=['Lato', 'Liberation Sans', 'DejaVu Sans'])

# chapter colour key
LEG_X = 1437
put(LEG_X, 298, 'ICD 10 chapter coloring', ha='left', va='center', fontsize=13.5,
    color='#111111', family=['Lato', 'DejaVu Sans'])

LEG_FONT = dict(fontsize=11.2, family=SANS)
fig.canvas.draw()
renderer = fig.canvas.get_renderer()


def text_width(s):
    t = fig.text(0, 0, s, **LEG_FONT)
    w = t.get_window_extent(renderer).width
    t.remove()
    return w


line_y = 325.4
step = 25.45
for i, (num, lines) in enumerate(zip(CHAPTER_NUMS, CHAPTER_LINES)):
    col = TEXT_COLORS[i]
    first = f'{num} {lines[0]}'
    put(LEG_X, line_y, first, ha='left', va='center', color=col, **LEG_FONT)
    if num == '16:':
        # trailing letter of this entry is drawn in the next chapter's green
        put(LEG_X + text_width(first), line_y, 'd', ha='left', va='center',
            color='#a6e52e', **LEG_FONT)
    indent = text_width(f'{num} X') - text_width('X')
    for extra in lines[1:]:
        line_y += step
        put(LEG_X + indent, line_y, extra, ha='left', va='center', color=col, **LEG_FONT)
    line_y += step

fig.savefig('out.png', dpi=100, facecolor='white')
plt.close(fig)
